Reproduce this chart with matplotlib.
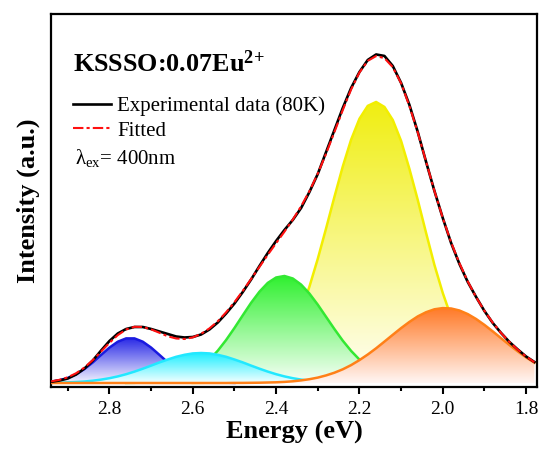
import numpy as np
import matplotlib
matplotlib.use('Agg')
import matplotlib.pyplot as plt
from matplotlib.colors import LinearSegmentedColormap
from matplotlib.patches import PathPatch
from matplotlib.ticker import MultipleLocator

# photon energy grid (eV), read every 0.02 eV
energy = np.array([2.94, 2.92, 2.90, 2.88, 2.86, 2.84, 2.82, 2.80, 2.78, 2.76,
                   2.74, 2.72, 2.70, 2.68, 2.66, 2.64, 2.62, 2.60, 2.58, 2.56,
                   2.54, 2.52, 2.50, 2.48, 2.46, 2.44, 2.42, 2.40, 2.38, 2.36,
                   2.34, 2.32, 2.30, 2.28, 2.26, 2.24, 2.22, 2.20, 2.18, 2.16,
                   2.14, 2.12, 2.10, 2.08, 2.06, 2.04, 2.02, 2.00, 1.98, 1.96,
                   1.94, 1.92, 1.90, 1.88, 1.86, 1.84, 1.82, 1.80, 1.78])

# measured spectrum at 80K (a.u.)
experimental = np.array([1.2, 2.5, 4.5, 8.5, 14.5, 22.5, 32.5, 42.0, 49.5, 54.0,
                         56.0, 56.0, 54.0, 51.5, 49.0, 46.5, 45.5, 46.0, 48.5, 53.5,
                         60.5, 69.5, 79.5, 91.0, 103.5, 117.0, 130.0, 142.0, 153.0, 163.0,
                         175.0, 191.0, 209.0, 231.0, 253.0, 275.0, 295.0, 311.0, 323.0, 328.5,
                         327.0, 317.0, 300.0, 278.0, 251.0, 221.0, 192.0, 165.0, 140.0, 119.0,
                         101.0, 86.0, 72.0, 60.0, 50.0, 41.0, 33.5, 26.5, 21.0])

# Gaussian components of the fit (a.u.)
peak_blue = np.array([1.4, 2.8, 5.1, 8.8, 14.0, 20.6, 28.1, 35.4, 41.3, 44.6,
                      44.6, 41.3, 35.4, 28.1, 20.6, 14.0, 8.8, 5.1, 2.8, 1.4,
                      0.6, 0.3, 0.1] + [0.0] * 36)
peak_cyan = np.array([0.2, 0.4, 0.6, 1.0, 1.5, 2.3, 3.4, 4.8, 6.6, 8.8,
                      11.4, 14.3, 17.4, 20.6, 23.5, 26.2, 28.2, 29.6, 30.0, 29.6,
                      28.2, 26.2, 23.5, 20.6, 17.4, 14.3, 11.4, 8.8, 6.6, 4.8,
                      3.4, 2.3, 1.5, 1.0, 0.6, 0.4, 0.2] + [0.0] * 22)
peak_green = np.array([0.0] * 9 +
                      [0.1, 0.2, 0.4, 0.8, 1.5, 2.6, 4.3, 7.0, 10.8, 16.2,
                       23.3, 32.3, 43.0, 55.0, 67.7, 80.2, 91.3, 100.1, 105.5, 107.0,
                       104.5, 98.4, 89.4, 78.3, 66.1, 53.9, 42.3, 32.1, 23.4, 16.5,
                       11.2, 7.4, 4.6, 2.8, 1.7, 0.9, 0.5, 0.3, 0.1] + [0.0] * 11)
peak_yellow = np.array([0.0] * 17 +
                       [0.1, 0.2, 0.3, 0.6, 1.2, 2.1, 3.7, 6.2, 10.2, 16.2,
                        24.8, 36.6, 52.4, 72.3, 96.4, 124.2, 154.7, 186.2, 216.5, 243.3,
                        264.2, 277.1, 281.0, 276.0, 263.0, 242.0, 214.0, 183.0, 150.0, 118.0,
                        90.0, 66.1, 47.3, 32.7, 21.8, 14.0, 8.7, 5.2, 3.0, 1.7,
                        0.9, 0.5])
peak_orange = np.array([0.0] * 22 +
                       [0.1, 0.1, 0.2, 0.3, 0.5, 0.7, 1.1, 1.7, 2.6, 3.8,
                        5.4, 7.6, 10.3, 13.7, 17.9, 22.9, 28.5, 34.7, 41.4, 48.2,
                        54.9, 61.1, 66.6, 70.8, 73.7, 74.9, 74.5, 72.5, 68.9, 64.0,
                        58.1, 51.6, 44.8, 38.0, 31.6, 25.6, 20.3])

fitted = peak_blue + peak_cyan + peak_green + peak_yellow + peak_orange

# drawing order bottom -> top: (values, line colour, gradient top, gradient bottom)
components = [
    (peak_yellow, '#F2EE00', '#F0EE10', '#FFFFF8'),
    (peak_green, '#33E833', '#2EF02E', '#F8FFF8'),
    (peak_blue, '#1A1AE0', '#2A2AE6', '#F4F4FF'),
    (peak_cyan, '#22E8FF', '#18EEFF', '#F6FFFF'),
    (peak_orange, '#FF8018', '#FF7A28', '#FFF6F4'),
]

plt.rcParams['font.family'] = ['Liberation Serif', 'DejaVu Serif']
plt.rcParams['mathtext.fontset'] = 'custom'
plt.rcParams['mathtext.rm'] = 'Liberation Serif'
plt.rcParams['mathtext.it'] = 'Liberation Serif:italic'
plt.rcParams['mathtext.bf'] = 'Liberation Serif:bold'

fig = plt.figure(figsize=(5.44, 4.5), dpi=100)
ax = fig.add_axes([0.094, 0.14, 0.893, 0.829])

grad = np.linspace(0, 1, 256).reshape(-1, 1)
for i, (vals, lc, top, bot) in enumerate(components):
    z = 2 + i
    poly = ax.fill_between(energy, 0, vals, facecolor='none', edgecolor='none')
    clip = PathPatch(poly.get_paths()[0], transform=ax.transData,
                     facecolor='none', edgecolor='none')
    ax.add_patch(clip)
    cmap = LinearSegmentedColormap.from_list('g%d' % i, [bot, top])
    im = ax.imshow(grad, cmap=cmap, aspect='auto', origin='lower',
                   extent=[energy[0], energy[-1], 0, vals.max()],
                   interpolation='bilinear', zorder=z)
    im.set_clip_path(clip)
    if vals is peak_orange:
        line_vals = vals
    else:
        # drop the zero tails and the part buried under the orange band
        hidden = (vals <= 0) | (vals < peak_orange)
        show = ~hidden
        show[1:] |= ~hidden[:-1] & (vals[1:] > 0)
        line_vals = np.ma.masked_where(~show, vals)
    ax.plot(energy, line_vals, color=lc, lw=1.8, zorder=z + 0.5,
            solid_joinstyle='round')

ax.plot(energy, experimental, color='black', lw=1.9, zorder=10,
        label='Experimental data (80K)')
ax.plot(energy, fitted, color='#FF1010', lw=1.5, zorder=11,
        dashes=(5, 1.5, 1.5, 1.5), label='Fitted')

ax.set_xlim(2.94, 1.774)
ax.set_ylim(-4, 369)

ax.xaxis.set_major_locator(MultipleLocator(0.2))
ax.xaxis.set_minor_locator(MultipleLocator(0.1))
ax.tick_params(axis='x', which='major', direction='out', length=5, width=1.5,
               labelsize=14, pad=5)
ax.tick_params(axis='x', which='minor', direction='out', length=3, width=1.5)
ax.set_yticks([])
for s in ax.spines.values():
    s.set_linewidth(1.6)

ax.set_xlabel('Energy (eV)', fontsize=19, fontweight='bold', labelpad=2)
ax.set_ylabel('Intensity (a.u.)', fontsize=19, fontweight='bold', labelpad=8)

ax.text(0.045, 0.845, r'KSSSO:0.07Eu$^{\mathbf{2\!+}}$', transform=ax.transAxes,
        fontsize=18.8, fontweight='bold', va='baseline')
ax.legend(loc='upper left', bbox_to_anchor=(0.024, 0.806), frameon=False,
          fontsize=15, handlelength=1.8, handletextpad=0.3,
          borderpad=0.0, labelspacing=0.22)
ax.text(0.049, 0.597, 'λ$_{\\mathregular{ex}}$= 400nm', transform=ax.transAxes,
        fontsize=15, va='baseline')

fig.savefig('out.png', dpi=100)
